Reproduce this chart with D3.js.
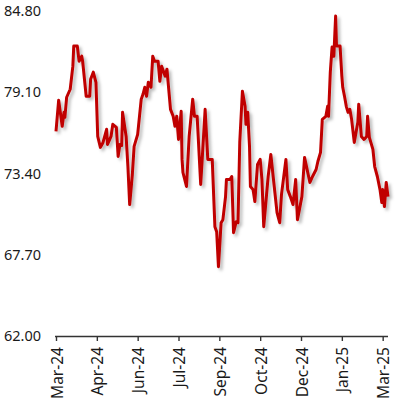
<!DOCTYPE html>
<html>
<head>
<meta charset="utf-8">
<script src="https://cdn.jsdelivr.net/npm/d3@7"></script>
<style>
  body { margin: 0; background: #fff; }
  .lbl { font-family: "Noto Sans", sans-serif; font-size: 14.5px; fill: #1a1a1a; }
  .xl { font-size: 15.5px; }
</style>
</head>
<body>
<script>
var dates = [
  "2024-03-01","2024-03-04","2024-03-08","2024-03-10","2024-03-11","2024-03-13","2024-03-17","2024-03-20","2024-03-21","2024-03-25",
  "2024-03-27","2024-03-30","2024-03-31","2024-04-04","2024-04-08","2024-04-09","2024-04-12","2024-04-15","2024-04-17","2024-04-20",
  "2024-04-23","2024-04-27","2024-04-28","2024-05-02","2024-05-04","2024-05-08","2024-05-10","2024-05-12","2024-05-14","2024-05-15",
  "2024-05-19","2024-05-21","2024-05-23","2024-05-26","2024-05-28","2024-06-01","2024-06-05","2024-06-07","2024-06-09","2024-06-11",
  "2024-06-13","2024-06-16","2024-06-18","2024-06-20","2024-06-24","2024-06-26","2024-06-28","2024-07-02","2024-07-04","2024-07-06",
  "2024-07-08","2024-07-11","2024-07-13","2024-07-15","2024-07-17","2024-07-20","2024-07-21","2024-07-22","2024-07-26","2024-07-29",
  "2024-08-02","2024-08-04","2024-08-07","2024-08-11","2024-08-16","2024-08-19","2024-08-24","2024-08-27","2024-08-29","2024-08-31",
  "2024-09-03","2024-09-05","2024-09-08","2024-09-09","2024-09-13","2024-09-15","2024-09-17","2024-09-20","2024-09-22","2024-09-24",
  "2024-09-27","2024-09-30","2024-10-01","2024-10-03","2024-10-05","2024-10-06","2024-10-09","2024-10-11","2024-10-14","2024-10-17",
  "2024-10-19","2024-10-21","2024-10-26","2024-10-29","2024-11-01","2024-11-05","2024-11-08","2024-11-10","2024-11-15","2024-11-17",
  "2024-11-20","2024-11-23","2024-11-26","2024-11-28","2024-12-03","2024-12-06","2024-12-12","2024-12-15","2024-12-19","2024-12-21",
  "2024-12-24","2024-12-26","2024-12-30","2025-01-01","2025-01-02","2025-01-04","2025-01-06","2025-01-08","2025-01-10","2025-01-11",
  "2025-01-15","2025-01-17","2025-01-18","2025-01-20","2025-01-22","2025-01-24","2025-01-26","2025-01-28","2025-01-31","2025-02-04",
  "2025-02-05","2025-02-08","2025-02-11","2025-02-14","2025-02-15","2025-02-17","2025-02-21","2025-02-23","2025-02-26","2025-03-01",
  "2025-03-03","2025-03-04","2025-03-06","2025-03-08","2025-03-10"
];
var values = [
  76.36,78.54,76.71,77.69,77.34,78.75,79.31,80.93,82.34,82.34,
  81.28,81.63,81.28,78.82,78.82,80.01,80.51,79.80,76.00,75.23,
  75.58,76.50,75.44,76.00,76.85,76.64,74.60,75.44,75.37,77.69,
  76.00,73.89,71.22,73.33,75.30,76.14,78.61,78.96,79.45,78.82,
  79.80,79.45,81.63,81.28,81.28,79.87,80.93,80.23,80.72,79.31,
  77.90,77.41,76.71,77.41,75.79,77.76,74.39,73.47,72.49,76.00,
  78.61,77.41,77.41,72.63,77.90,74.39,74.39,69.67,69.32,66.86,
  69.95,70.16,71.78,72.98,72.98,73.19,69.25,70.02,69.95,75.58,
  79.17,78.11,76.85,77.69,75.30,72.49,72.27,71.43,74.03,74.39,
  72.98,69.67,73.19,74.74,72.98,70.66,69.95,71.92,74.39,72.27,
  71.78,71.22,72.98,70.16,71.78,74.53,72.77,73.19,73.68,74.24,
  74.88,77.20,77.41,78.11,77.41,80.51,82.27,81.63,84.45,82.34,
  82.34,80.23,79.45,78.82,78.11,77.69,77.90,77.20,75.58,76.99,
  78.26,76.00,75.79,76.00,77.41,75.93,75.09,73.89,73.19,72.27,
  71.36,72.27,71.08,72.77,71.78
];
var xTickDates = ["2024-03-01","2024-04-16","2024-06-01","2024-07-17","2024-09-01","2024-10-17","2024-12-02","2025-01-17","2025-03-04"];
var xTickLabels = ["Mar-24","Apr-24","Jun-24","Jul-24","Sep-24","Oct-24","Dec-24","Jan-25","Mar-25"];
var yTicks = [62.00, 67.70, 73.40, 79.10, 84.80];

var W = 397, H = 402;
var parse = d3.timeParse("%Y-%m-%d");
var data = dates.map(function (d, i) { return { date: parse(d), value: values[i] }; });

var svg = d3.select('body').append('svg').attr('width', W).attr('height', H);

var f = svg.append('defs').append('filter').attr('id', 'shadow')
    .attr('x', '-10%').attr('y', '-10%').attr('width', '120%').attr('height', '120%');
f.append('feDropShadow')
    .attr('dx', 2.5).attr('dy', 2.5).attr('stdDeviation', 1.8)
    .attr('flood-color', '#000').attr('flood-opacity', 0.28);

var x = d3.scaleTime()
    .domain([parse(dates[0]), parse(dates[dates.length - 1])])
    .range([56, 388]);
var y = d3.scaleLinear().domain([62, 84.8]).range([336, 11]);

// y labels only, no axis line
var gy = svg.append('g').attr('transform', 'translate(41,0)')
    .call(d3.axisLeft(y).tickValues(yTicks).tickFormat(d3.format('.2f')).tickSize(0).tickPadding(0));
gy.select('.domain').remove();
gy.selectAll('text').attr('class', 'lbl').attr('font-family', null).attr('font-size', null);

// x axis
var gx = svg.append('g').attr('transform', 'translate(0,336)')
    .call(d3.axisBottom(x)
        .tickValues(xTickDates.map(parse))
        .tickFormat(function (d, i) { return xTickLabels[i]; })
        .tickSize(5).tickSizeOuter(0));
gx.select('.domain').attr('d', 'M55,0.5H388').attr('stroke', '#333').attr('stroke-width', 1.4);
gx.selectAll('.tick line').attr('stroke', '#333').attr('stroke-width', 1.4);
gx.selectAll('text')
    .attr('class', 'lbl xl')
    .attr('font-family', null).attr('font-size', null)
    .attr('text-anchor', 'end')
    .attr('dy', null)
    .attr('transform', 'rotate(-90)')
    .attr('x', -11).attr('y', 6);

var line = d3.line()
    .x(function (d) { return x(d.date); })
    .y(function (d) { return y(d.value); });

svg.append('path')
    .datum(data)
    .attr('d', line)
    .attr('fill', 'none')
    .attr('stroke', '#c00000')
    .attr('stroke-width', 3)
    .attr('stroke-linejoin', 'round')
    .attr('filter', 'url(#shadow)');
</script>
</body>
</html>
